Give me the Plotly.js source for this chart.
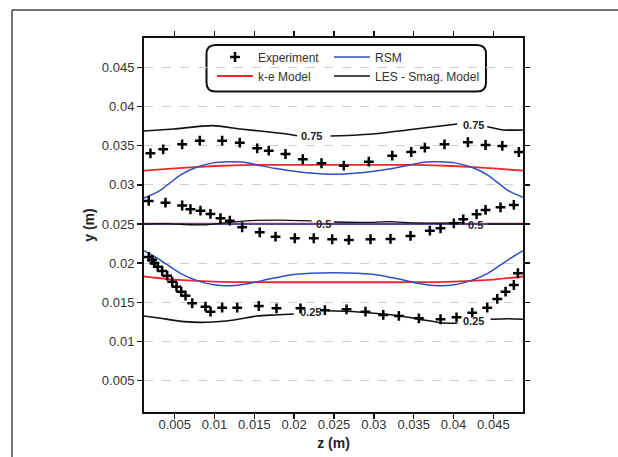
<!DOCTYPE html>
<html>
<head>
<meta charset="utf-8">
<script src="https://cdn.plot.ly/plotly-3.0.1.min.js"></script>
<style>html,body{margin:0;padding:0;background:#fff;}#chart{width:618px;height:457px;}</style>
</head>
<body>
<div id="chart"></div>
<script>
// ---- Experiment (three measured profiles) ----
const expUpperZ = [0.00196,0.00356,0.00594,0.00815,0.01096,0.01317,0.01536,0.01681,0.01891,0.02108,0.02343,0.02623,0.02937,0.03231,0.03469,0.0364,0.03887,0.0418,0.04402,0.04612,0.0482];
const expUpperY = [0.03402,0.03453,0.03517,0.03563,0.03563,0.03538,0.03466,0.03436,0.03393,0.03326,0.03275,0.03244,0.03295,0.03372,0.03419,0.03474,0.03517,0.03543,0.03508,0.03496,0.03419];
const expMidZ = [0.00175,0.00385,0.00594,0.00698,0.00824,0.00949,0.01075,0.01192,0.01347,0.01568,0.01766,0.02008,0.02246,0.02477,0.02686,0.02958,0.03209,0.0346,0.03703,0.03837,0.04004,0.04122,0.04289,0.04402,0.0459,0.04757];
const expMidY = [0.02794,0.02772,0.02736,0.02688,0.0267,0.02628,0.02573,0.02542,0.02458,0.02394,0.02338,0.02318,0.02318,0.02305,0.02296,0.02305,0.02309,0.02347,0.02415,0.02445,0.02509,0.0256,0.02624,0.02679,0.02713,0.02743];
const expLowZ = [0.00175,0.00217,0.00246,0.00288,0.00343,0.00406,0.00469,0.00523,0.00582,0.00636,0.0072,0.00887,0.0095,0.01096,0.01285,0.01556,0.01778,0.02079,0.02385,0.02657,0.02895,0.03118,0.03314,0.03565,0.03837,0.04038,0.04235,0.04423,0.04549,0.04653,0.04757,0.04808];
const expLowY = [0.0208,0.0204,0.0200,0.01955,0.0190,0.0184,0.01764,0.0170,0.01636,0.01585,0.01488,0.01444,0.01381,0.01432,0.01432,0.01453,0.01424,0.01424,0.0140,0.01411,0.01381,0.01339,0.01326,0.01296,0.01284,0.01309,0.01368,0.01432,0.01543,0.01636,0.01721,0.01871];

// ---- k-e Model ----
const keZ = [0.00115,0.005,0.010,0.015,0.020,0.025,0.030,0.035,0.040,0.045,0.04872];
const keUpperY = [0.0318,0.0321,0.0324,0.03255,0.03255,0.03255,0.03255,0.03255,0.0324,0.0321,0.0318];
const keMidY = [0.02502,0.02502,0.02502,0.02502,0.02502,0.02502,0.02502,0.02502,0.02502,0.02502,0.02502];
const keLowerY = [0.0183,0.0179,0.01765,0.01757,0.01756,0.01756,0.01756,0.01757,0.01765,0.0179,0.0183];

// ---- RSM ----
const rsmUpperZ = [0.00115,0.0032,0.0057,0.0079,0.0098,0.0117,0.0135,0.0154,0.0175,0.0195,0.0220,0.0250,0.0280,0.0305,0.0325,0.0345,0.0365,0.0383,0.0402,0.0421,0.0443,0.0468,0.04872];
const rsmUpperY = [0.0283,0.0293,0.03125,0.0323,0.0328,0.03295,0.0329,0.03253,0.0321,0.0318,0.0315,0.03134,0.0315,0.0318,0.0321,0.03253,0.0329,0.03295,0.0328,0.0323,0.03125,0.0293,0.0284];
const rsmMidZ = [0.00115,0.025,0.04872];
const rsmMidY = [0.0250,0.0250,0.0250];
const rsmLowerZ = [0.00115,0.0032,0.0057,0.0082,0.0101,0.0120,0.0145,0.0170,0.0195,0.0220,0.0250,0.0280,0.0305,0.0330,0.0355,0.0380,0.0399,0.0418,0.0443,0.0468,0.04872];
const rsmLowerY = [0.0216,0.0204,0.0187,0.01764,0.0172,0.01712,0.01743,0.0180,0.01849,0.0187,0.01878,0.0187,0.01849,0.0180,0.01743,0.01712,0.0172,0.01764,0.0187,0.0204,0.0216];

// ---- LES - Smag. Model (contour lines, gaps at labels) ----
const les75Z = [0.00115,0.00489,0.00971,0.01326,0.01828,0.02038,null,0.02456,0.02791,0.03084,0.03419,0.03837,0.04047,null,0.04423,0.04632,0.04872];
const les75Y = [0.03687,0.03713,0.03755,0.03713,0.03658,0.03627,null,0.03623,0.03636,0.03658,0.037,0.03751,0.03777,null,0.03742,0.037,0.037];
const les50Z = [0.00115,0.004,0.007,0.009,0.011,0.014,0.018,0.0222,null,0.0250,0.029,0.032,0.035,0.038,0.0413,null,0.0443,0.04872];
const les50Y = [0.0250,0.02505,0.0249,0.0249,0.0251,0.0254,0.0255,0.0254,null,0.02525,0.0252,0.0253,0.02515,0.0251,0.0252,null,0.0250,0.0250];
const les25Z = [0.00115,0.00322,0.00614,0.00908,0.01242,0.01536,0.01744,0.01995,null,0.02415,0.02666,0.0300,0.03335,0.03627,0.03837,0.04047,null,0.04465,0.04675,0.04872];
const les25Y = [0.01326,0.01296,0.01253,0.01245,0.01275,0.01326,0.01339,0.01351,null,0.01393,0.01386,0.0136,0.01326,0.01275,0.0124,0.01233,null,0.01284,0.01291,0.01284];

// contour labels
const labelText = ['0.75','0.75','0.5','0.5','0.25','0.25'];
const labelZ = [0.02215,0.04245,0.02368,0.04277,0.02205,0.04245];
const labelY = [0.03623,0.03762,0.0250,0.02488,0.01381,0.01256];

// ticks
const xTicks = [0.005,0.01,0.015,0.02,0.025,0.03,0.035,0.04,0.045];
const yTicks = [0.005,0.01,0.015,0.02,0.025,0.03,0.035,0.04,0.045];

const RED = '#f0262e', BLUE = '#2f4fbf', BLACK = '#111111';

const traces = [];
function line(z, y, color, width, name, show, legend, rank) {
  traces.push({x: z, y: y, type: 'scatter', mode: 'lines', name: name,
    line: {color: color, width: width, shape: 'spline', smoothing: 0.6},
    connectgaps: false, showlegend: show, legend: legend, legendrank: rank, legendgroup: name, hoverinfo: 'skip'});
}
line(keZ, keUpperY, RED, 1.8, 'k-e Model', true, 'legend', 2);
line(keZ, keMidY, RED, 2.2, 'k-e Model', false, 'legend', 2);
line(keZ, keLowerY, RED, 1.8, 'k-e Model', false, 'legend', 2);
line(rsmUpperZ, rsmUpperY, BLUE, 1.5, 'RSM', true, 'legend2', 1);
line(rsmMidZ, rsmMidY, BLUE, 1.5, 'RSM', false, 'legend2', 1);
line(rsmLowerZ, rsmLowerY, BLUE, 1.5, 'RSM', false, 'legend2', 1);
line(les75Z, les75Y, BLACK, 1.6, 'LES - Smag. Model', true, 'legend2', 2);
line(les50Z, les50Y, BLACK, 1.3, 'LES - Smag. Model', false, 'legend2', 2);
line(les25Z, les25Y, BLACK, 1.6, 'LES - Smag. Model', false, 'legend2', 2);

const expMarker = {symbol: 'cross-thin-open', size: 7, color: '#000', line: {color: '#000', width: 2.5}};
traces.push({x: expUpperZ.concat([null], expMidZ, [null], expLowZ),
             y: expUpperY.concat([null], expMidY, [null], expLowY),
             type: 'scatter', mode: 'markers', name: 'Experiment', marker: expMarker,
             legend: 'legend', legendrank: 1, hoverinfo: 'skip'});

const annotations = labelText.map((t, i) => ({
  x: labelZ[i], y: labelY[i], xref: 'x', yref: 'y', text: '<b>' + t + '</b>', showarrow: false,
  font: {family: 'Liberation Sans, Arial, sans-serif', size: 11, color: '#222'}
}));

// geometry helpers for paper-coordinate shapes
const W = 618, H = 457, ML = 144, MR = 95, MT = 38, MB = 45;
const PW = W - ML - MR, PH = H - MT - MB;
const px = v => (v - ML) / PW;
const py = v => 1 - (v - MT) / PH;
function roundRect(x0, y0, x1, y1, r) {
  const rx = r / PW, ry = r / PH;
  const X0 = px(x0), X1 = px(x1), Y0 = py(y0), Y1 = py(y1); // Y0 top
  return `M${X0 + rx},${Y0} L${X1 - rx},${Y0} Q${X1},${Y0} ${X1},${Y0 - ry} L${X1},${Y1 + ry} Q${X1},${Y1} ${X1 - rx},${Y1} L${X0 + rx},${Y1} Q${X0},${Y1} ${X0},${Y1 + ry} L${X0},${Y0 - ry} Q${X0},${Y0} ${X0 + rx},${Y0} Z`;
}

const shapes = [
  {type: 'path', xref: 'paper', yref: 'paper', path: roundRect(206.5, 45, 486, 91.5, 9),
   line: {color: '#111', width: 2}, fillcolor: 'rgba(255,255,255,1)', layer: 'below'},
  {type: 'line', xref: 'paper', yref: 'paper', x0: px(12), y0: py(10), x1: px(640), y1: py(10), line: {color: '#444', width: 1.5}},
  {type: 'line', xref: 'paper', yref: 'paper', x0: px(12), y0: py(10), x1: px(12), y1: py(470), line: {color: '#444', width: 1.5}}
];

const tickFont = {family: 'Liberation Sans, Arial, sans-serif', size: 13, color: '#333'};
const legendFont = {family: 'Liberation Sans, Arial, sans-serif', size: 12, color: '#333'};

const layout = {
  width: W, height: H,
  margin: {l: ML, r: MR, t: MT, b: MB},
  paper_bgcolor: '#fff', plot_bgcolor: 'rgba(0,0,0,0)',
  showlegend: true,
  xaxis: {
    range: [0.00115, 0.04872], tickvals: xTicks, ticktext: xTicks.map(String),
    showgrid: false, zeroline: false, showline: true, linecolor: '#111', linewidth: 2, mirror: 'ticks',
    ticks: 'outside', ticklen: 5, tickwidth: 1.5, tickcolor: '#111', tickfont: tickFont,
    ticklabelstandoff: -6,
    title: {text: '<b>z (m)</b>', font: {family: 'Liberation Sans, Arial, sans-serif', size: 14, color: '#222'}, standoff: 8},
    automargin: false
  },
  yaxis: {
    range: [0.0010, 0.04874], tickvals: yTicks, ticktext: yTicks.map(String),
    showgrid: true, gridcolor: '#cfcfcf', gridwidth: 1, griddash: 'dash',
    zeroline: false, showline: true, linecolor: '#111', linewidth: 2, mirror: 'ticks',
    ticks: 'outside', ticklen: 5, tickwidth: 1.5, tickcolor: '#111', tickfont: tickFont,
    title: {text: '<b>y (m)</b>', font: {family: 'Liberation Sans, Arial, sans-serif', size: 14, color: '#222'}, standoff: 4},
    automargin: false
  },
  legend: {x: px(212), y: py(42.5), xanchor: 'left', yanchor: 'top', xref: 'paper', yref: 'paper',
           bgcolor: 'rgba(0,0,0,0)', borderwidth: 0, font: legendFont, itemwidth: 36, tracegroupgap: 0,
           orientation: 'v'},
  legend2: {x: px(329), y: py(42.5), xanchor: 'left', yanchor: 'top', xref: 'paper', yref: 'paper',
           bgcolor: 'rgba(0,0,0,0)', borderwidth: 0, font: legendFont, itemwidth: 36, tracegroupgap: 0,
           orientation: 'v'},
  annotations: annotations,
  shapes: shapes
};

Plotly.newPlot('chart', traces, layout, {staticPlot: true, displayModeBar: false});
</script>
</body>
</html>
